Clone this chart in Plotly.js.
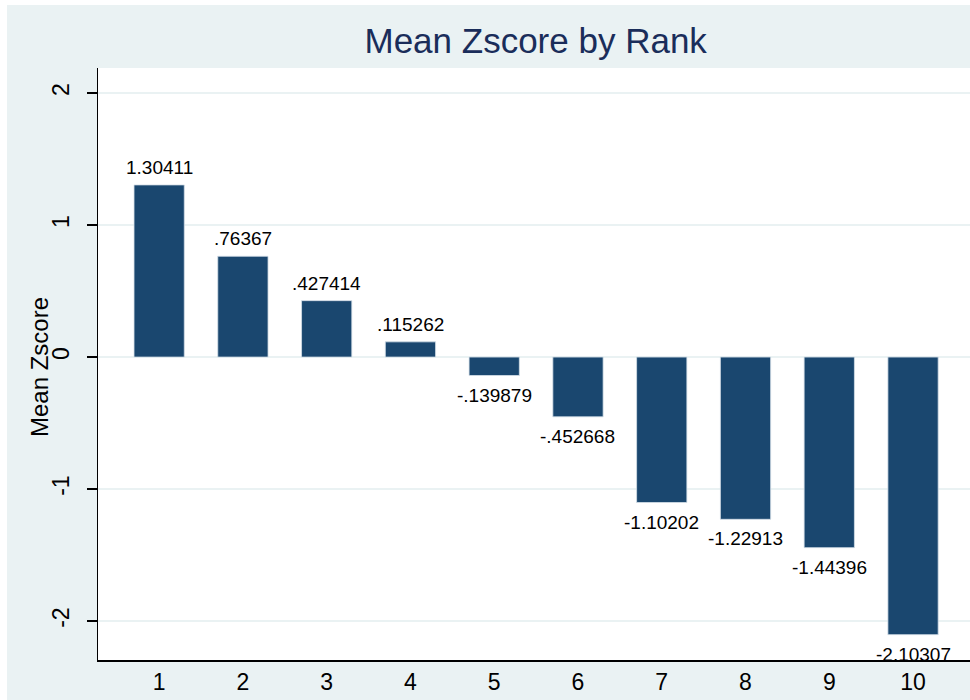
<!DOCTYPE html>
<html>
<head>
<meta charset="utf-8">
<script src="https://cdn.plot.ly/plotly-3.0.1.min.js"></script>
<style>
html,body{margin:0;padding:0;background:#ffffff;}
#chart{position:absolute;left:7px;top:5px;width:963px;height:695px;}
</style>
</head>
<body>
<div id="chart"></div>
<script>
const ranks = [1, 2, 3, 4, 5, 6, 7, 8, 9, 10];
const meanZ = [1.30411, 0.76367, 0.427414, 0.115262, -0.139879, -0.452668, -1.10202, -1.22913, -1.44396, -2.10307];
const labels = ["1.30411", ".76367", ".427414", ".115262", "-.139879", "-.452668", "-1.10202", "-1.22913", "-1.44396", "-2.10307"];
const yTicks = [-2, -1, 0, 1, 2];
const yTitle = 'Mean Zscore';

const font = "Liberation Sans, Arial, sans-serif";

const trace = {
  type: 'bar',
  x: ranks,
  y: meanZ,
  width: 0.6,
  marker: {color: '#1a476f', line: {color: '#d5e0e8', width: 0.8}},
  hoverinfo: 'x+y'
};

const annotations = ranks.map((r, i) => ({
  x: r, y: meanZ[i], xref: 'x', yref: 'y',
  text: labels[i], showarrow: false,
  xanchor: 'center',
  yanchor: meanZ[i] >= 0 ? 'bottom' : 'top',
  yshift: meanZ[i] >= 0 ? 5 : -7,
  font: {family: font, size: 19, color: '#000000'}
}));

annotations.push({
  x: 0, y: 0.5, xref: 'paper', yref: 'paper',
  text: yTitle, showarrow: false, textangle: -90,
  xanchor: 'center', yanchor: 'middle', xshift: -59, yshift: -3,
  font: {family: font, size: 24, color: '#000000'}
});

const layout = {
  width: 963, height: 695,
  margin: {l: 91, r: 0, t: 63, b: 40},
  paper_bgcolor: '#eaf2f3',
  plot_bgcolor: '#ffffff',
  showlegend: false,
  annotations: annotations,
  title: {text: 'Mean Zscore by Rank', font: {family: font, size: 35, color: '#1a2d5a'},
          x: 0.549, xanchor: 'center', y: 0.948, yanchor: 'middle'},
  xaxis: {
    range: [0.27, 10.68],
    tickvals: ranks,
    ticktext: ranks.map(String),
    ticks: '',
    showgrid: false,
    zeroline: false,
    showline: true, linecolor: '#000000', linewidth: 1.5,
    tickfont: {family: font, size: 23, color: '#000000'},
    ticklabelstandoff: 1,
    fixedrange: true
  },
  yaxis: {
    range: [-2.295, 2.19],
    tickvals: yTicks,
    ticktext: yTicks.map(String),
    tickangle: -90,
    ticks: 'outside', ticklen: 10, tickwidth: 1.5, tickcolor: '#000000',
    ticklabelstandoff: 8,
    showgrid: true, gridcolor: '#eaf2f3', gridwidth: 1.5,
    zeroline: true, zerolinecolor: '#eaf2f3', zerolinewidth: 1.5,
    showline: true, linecolor: '#000000', linewidth: 1.5,
    tickfont: {family: font, size: 23, color: '#000000'},
    fixedrange: true
  }
};

Plotly.newPlot('chart', [trace], layout, {displayModeBar: false, staticPlot: true});
</script>
</body>
</html>
